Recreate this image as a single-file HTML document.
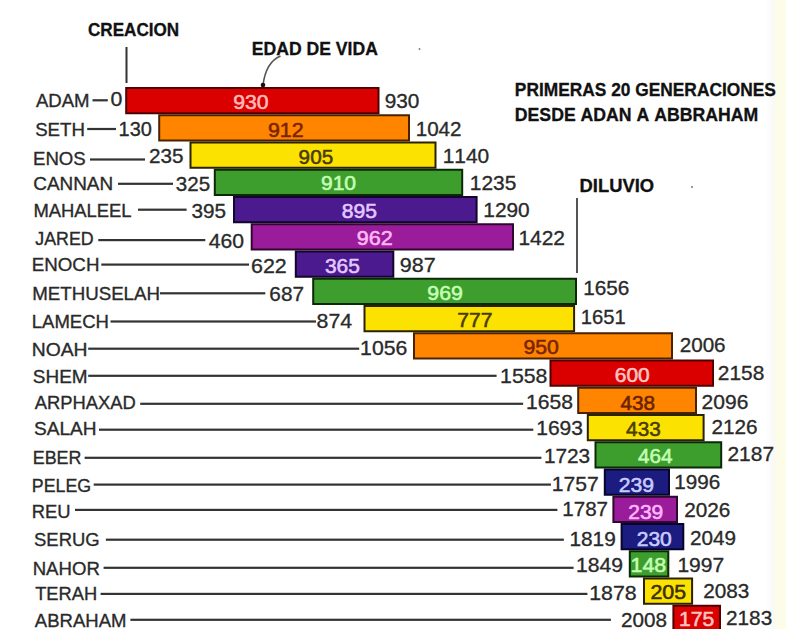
<!DOCTYPE html><html><head><meta charset="utf-8"><style>html,body{margin:0;padding:0;background:#fff;overflow:hidden}svg{display:block}text{font-family:"Liberation Sans",sans-serif;font-kerning:none}</style></head><body>
<svg width="786" height="629" viewBox="0 0 786 629">
<rect x="0" y="0" width="786" height="629" fill="#ffffff"/>
<rect x="775" y="0" width="11" height="629" fill="#fcfce9"/>
<defs><linearGradient id="g1" x1="0" x2="1" y1="0" y2="0"><stop offset="0" stop-color="#ffffff"/><stop offset="1" stop-color="#f8f8f6"/></linearGradient></defs>
<rect x="765" y="0" width="10" height="629" fill="url(#g1)"/>
<rect x="92.50" y="99.20" width="15.30" height="2.20" fill="#333333"/>
<rect x="87.20" y="127.90" width="28.80" height="2.20" fill="#333333"/>
<rect x="90.00" y="158.40" width="55.00" height="2.20" fill="#333333"/>
<rect x="118.00" y="182.70" width="55.00" height="2.20" fill="#333333"/>
<rect x="138.00" y="208.60" width="48.60" height="2.20" fill="#333333"/>
<rect x="98.30" y="239.00" width="107.00" height="2.20" fill="#333333"/>
<rect x="101.30" y="263.50" width="147.70" height="2.20" fill="#333333"/>
<rect x="160.00" y="292.20" width="105.30" height="2.20" fill="#333333"/>
<rect x="110.50" y="320.40" width="205.50" height="2.20" fill="#333333"/>
<rect x="88.20" y="347.60" width="271.00" height="2.20" fill="#333333"/>
<rect x="88.20" y="374.70" width="408.40" height="2.20" fill="#333333"/>
<rect x="140.20" y="402.70" width="382.90" height="2.20" fill="#333333"/>
<rect x="99.00" y="428.60" width="434.30" height="2.20" fill="#333333"/>
<rect x="84.60" y="456.70" width="456.80" height="2.20" fill="#333333"/>
<rect x="93.70" y="483.50" width="457.20" height="2.20" fill="#333333"/>
<rect x="75.00" y="508.80" width="482.40" height="2.20" fill="#333333"/>
<rect x="105.90" y="538.60" width="458.00" height="2.20" fill="#333333"/>
<rect x="103.60" y="566.70" width="470.00" height="2.20" fill="#333333"/>
<rect x="100.60" y="592.80" width="486.80" height="2.20" fill="#333333"/>
<rect x="130.40" y="618.70" width="480.50" height="2.20" fill="#333333"/>
<rect x="126.20" y="88.00" width="252.30" height="25.25" fill="#da0000" stroke="#500000" stroke-width="2.00"/>
<rect x="159.20" y="115.25" width="249.80" height="25.25" fill="#ff8400" stroke="#4a2200" stroke-width="2.00"/>
<rect x="190.50" y="142.50" width="245.00" height="25.25" fill="#fce200" stroke="#2a2200" stroke-width="2.00"/>
<rect x="214.80" y="169.75" width="247.40" height="25.25" fill="#3d9e2d" stroke="#0c2808" stroke-width="2.00"/>
<rect x="234.00" y="197.00" width="242.60" height="25.25" fill="#4a1a8e" stroke="#12062a" stroke-width="2.00"/>
<rect x="251.70" y="224.25" width="261.30" height="25.25" fill="#9a1c9a" stroke="#2e082e" stroke-width="2.00"/>
<rect x="295.80" y="251.50" width="97.50" height="25.25" fill="#4a1a8e" stroke="#12062a" stroke-width="2.00"/>
<rect x="313.20" y="278.75" width="262.80" height="25.25" fill="#3d9e2d" stroke="#0c2808" stroke-width="2.00"/>
<rect x="364.50" y="306.00" width="209.60" height="25.25" fill="#fce200" stroke="#2a2200" stroke-width="2.00"/>
<rect x="414.00" y="333.25" width="258.00" height="25.25" fill="#ff8400" stroke="#4a2200" stroke-width="2.00"/>
<rect x="550.50" y="360.50" width="162.50" height="25.25" fill="#da0000" stroke="#500000" stroke-width="2.00"/>
<rect x="578.20" y="387.75" width="117.80" height="25.25" fill="#ff8400" stroke="#4a2200" stroke-width="2.00"/>
<rect x="587.80" y="415.00" width="115.80" height="25.25" fill="#fce200" stroke="#2a2200" stroke-width="2.00"/>
<rect x="595.50" y="442.25" width="125.70" height="25.25" fill="#3d9e2d" stroke="#0c2808" stroke-width="2.00"/>
<rect x="604.80" y="469.50" width="64.20" height="25.25" fill="#1c1c80" stroke="#06062a" stroke-width="2.00"/>
<rect x="613.40" y="496.75" width="63.60" height="25.25" fill="#9a1c9a" stroke="#2e082e" stroke-width="2.00"/>
<rect x="621.60" y="524.00" width="61.70" height="25.25" fill="#1c1c80" stroke="#06062a" stroke-width="2.00"/>
<rect x="629.80" y="551.25" width="38.50" height="25.25" fill="#3d9e2d" stroke="#0c2808" stroke-width="2.00"/>
<rect x="644.00" y="578.50" width="48.10" height="25.25" fill="#fce200" stroke="#2a2200" stroke-width="2.00"/>
<rect x="673.40" y="605.75" width="46.60" height="25.25" fill="#da0000" stroke="#500000" stroke-width="2.00"/>
<text x="35.96" y="107.43" font-size="18.80" fill="#2a2a2a" stroke="#2a2a2a" stroke-width="0.35" textLength="53.56" lengthAdjust="spacingAndGlyphs">ADAM</text>
<text x="35.15" y="135.53" font-size="18.80" fill="#2a2a2a" stroke="#2a2a2a" stroke-width="0.35" textLength="49.77" lengthAdjust="spacingAndGlyphs">SETH</text>
<text x="32.97" y="165.33" font-size="18.80" fill="#2a2a2a" stroke="#2a2a2a" stroke-width="0.35" textLength="52.78" lengthAdjust="spacingAndGlyphs">ENOS</text>
<text x="33.24" y="189.53" font-size="18.80" fill="#2a2a2a" stroke="#2a2a2a" stroke-width="0.35" textLength="79.90" lengthAdjust="spacingAndGlyphs">CANNAN</text>
<text x="33.39" y="216.93" font-size="18.80" fill="#2a2a2a" stroke="#2a2a2a" stroke-width="0.35" textLength="98.22" lengthAdjust="spacingAndGlyphs">MAHALEEL</text>
<text x="35.32" y="244.83" font-size="18.80" fill="#2a2a2a" stroke="#2a2a2a" stroke-width="0.35" textLength="58.33" lengthAdjust="spacingAndGlyphs">JARED</text>
<text x="31.76" y="270.83" font-size="18.80" fill="#2a2a2a" stroke="#2a2a2a" stroke-width="0.35" textLength="67.66" lengthAdjust="spacingAndGlyphs">ENOCH</text>
<text x="32.17" y="300.03" font-size="18.80" fill="#2a2a2a" stroke="#2a2a2a" stroke-width="0.35" textLength="127.86" lengthAdjust="spacingAndGlyphs">METHUSELAH</text>
<text x="31.78" y="327.53" font-size="18.80" fill="#2a2a2a" stroke="#2a2a2a" stroke-width="0.35" textLength="77.23" lengthAdjust="spacingAndGlyphs">LAMECH</text>
<text x="31.71" y="355.73" font-size="18.80" fill="#2a2a2a" stroke="#2a2a2a" stroke-width="0.35" textLength="55.86" lengthAdjust="spacingAndGlyphs">NOAH</text>
<text x="32.84" y="383.13" font-size="18.80" fill="#2a2a2a" stroke="#2a2a2a" stroke-width="0.35" textLength="54.71" lengthAdjust="spacingAndGlyphs">SHEM</text>
<text x="34.86" y="409.33" font-size="18.80" fill="#2a2a2a" stroke="#2a2a2a" stroke-width="0.35" textLength="101.01" lengthAdjust="spacingAndGlyphs">ARPHAXAD</text>
<text x="34.03" y="434.73" font-size="18.80" fill="#2a2a2a" stroke="#2a2a2a" stroke-width="0.35" textLength="62.62" lengthAdjust="spacingAndGlyphs">SALAH</text>
<text x="32.73" y="464.33" font-size="18.80" fill="#2a2a2a" stroke="#2a2a2a" stroke-width="0.35" textLength="48.80" lengthAdjust="spacingAndGlyphs">EBER</text>
<text x="31.84" y="492.03" font-size="18.80" fill="#2a2a2a" stroke="#2a2a2a" stroke-width="0.35" textLength="59.29" lengthAdjust="spacingAndGlyphs">PELEG</text>
<text x="31.79" y="518.23" font-size="18.80" fill="#2a2a2a" stroke="#2a2a2a" stroke-width="0.35" textLength="38.83" lengthAdjust="spacingAndGlyphs">REU</text>
<text x="34.06" y="545.93" font-size="18.80" fill="#2a2a2a" stroke="#2a2a2a" stroke-width="0.35" textLength="65.62" lengthAdjust="spacingAndGlyphs">SERUG</text>
<text x="32.67" y="574.53" font-size="18.80" fill="#2a2a2a" stroke="#2a2a2a" stroke-width="0.35" textLength="67.19" lengthAdjust="spacingAndGlyphs">NAHOR</text>
<text x="35.19" y="599.53" font-size="18.80" fill="#2a2a2a" stroke="#2a2a2a" stroke-width="0.35" textLength="61.90" lengthAdjust="spacingAndGlyphs">TERAH</text>
<text x="34.86" y="626.53" font-size="18.80" fill="#2a2a2a" stroke="#2a2a2a" stroke-width="0.35" textLength="91.55" lengthAdjust="spacingAndGlyphs">ABRAHAM</text>
<text x="110.57" y="105.83" font-size="19.80" fill="#2a2a2a" stroke="#2a2a2a" stroke-width="0.32" textLength="11.87" lengthAdjust="spacingAndGlyphs">0</text>
<text x="118.58" y="136.03" font-size="19.80" fill="#2a2a2a" stroke="#2a2a2a" stroke-width="0.32" textLength="33.30" lengthAdjust="spacingAndGlyphs">130</text>
<text x="148.96" y="163.43" font-size="19.80" fill="#2a2a2a" stroke="#2a2a2a" stroke-width="0.32" textLength="34.51" lengthAdjust="spacingAndGlyphs">235</text>
<text x="175.82" y="190.53" font-size="19.80" fill="#2a2a2a" stroke="#2a2a2a" stroke-width="0.32" textLength="34.35" lengthAdjust="spacingAndGlyphs">325</text>
<text x="191.41" y="218.03" font-size="19.80" fill="#2a2a2a" stroke="#2a2a2a" stroke-width="0.32" textLength="34.56" lengthAdjust="spacingAndGlyphs">395</text>
<text x="208.81" y="248.03" font-size="19.80" fill="#2a2a2a" stroke="#2a2a2a" stroke-width="0.32" textLength="35.31" lengthAdjust="spacingAndGlyphs">460</text>
<text x="251.01" y="273.03" font-size="19.80" fill="#2a2a2a" stroke="#2a2a2a" stroke-width="0.32" textLength="35.77" lengthAdjust="spacingAndGlyphs">622</text>
<text x="269.34" y="300.53" font-size="19.80" fill="#2a2a2a" stroke="#2a2a2a" stroke-width="0.32" textLength="34.70" lengthAdjust="spacingAndGlyphs">687</text>
<text x="316.57" y="328.03" font-size="19.80" fill="#2a2a2a" stroke="#2a2a2a" stroke-width="0.32" textLength="35.55" lengthAdjust="spacingAndGlyphs">874</text>
<text x="360.08" y="355.03" font-size="19.80" fill="#2a2a2a" stroke="#2a2a2a" stroke-width="0.32" textLength="47.25" lengthAdjust="spacingAndGlyphs">1056</text>
<text x="500.08" y="382.53" font-size="19.80" fill="#2a2a2a" stroke="#2a2a2a" stroke-width="0.32" textLength="47.35" lengthAdjust="spacingAndGlyphs">1558</text>
<text x="525.99" y="408.93" font-size="19.80" fill="#2a2a2a" stroke="#2a2a2a" stroke-width="0.32" textLength="46.92" lengthAdjust="spacingAndGlyphs">1658</text>
<text x="536.20" y="435.43" font-size="19.80" fill="#2a2a2a" stroke="#2a2a2a" stroke-width="0.32" textLength="46.83" lengthAdjust="spacingAndGlyphs">1693</text>
<text x="543.91" y="462.93" font-size="19.80" fill="#2a2a2a" stroke="#2a2a2a" stroke-width="0.32" textLength="46.30" lengthAdjust="spacingAndGlyphs">1723</text>
<text x="551.89" y="491.12" font-size="19.80" fill="#2a2a2a" stroke="#2a2a2a" stroke-width="0.32" textLength="46.97" lengthAdjust="spacingAndGlyphs">1757</text>
<text x="562.34" y="516.13" font-size="19.80" fill="#2a2a2a" stroke="#2a2a2a" stroke-width="0.32" textLength="45.70" lengthAdjust="spacingAndGlyphs">1787</text>
<text x="569.41" y="545.63" font-size="19.80" fill="#2a2a2a" stroke="#2a2a2a" stroke-width="0.32" textLength="46.38" lengthAdjust="spacingAndGlyphs">1819</text>
<text x="576.09" y="572.23" font-size="19.80" fill="#2a2a2a" stroke="#2a2a2a" stroke-width="0.32" textLength="47.01" lengthAdjust="spacingAndGlyphs">1849</text>
<text x="589.18" y="599.63" font-size="19.80" fill="#2a2a2a" stroke="#2a2a2a" stroke-width="0.32" textLength="47.45" lengthAdjust="spacingAndGlyphs">1878</text>
<text x="620.96" y="627.03" font-size="19.80" fill="#2a2a2a" stroke="#2a2a2a" stroke-width="0.32" textLength="45.94" lengthAdjust="spacingAndGlyphs">2008</text>
<text x="384.73" y="107.83" font-size="19.80" fill="#2a2a2a" stroke="#2a2a2a" stroke-width="0.32" textLength="34.69" lengthAdjust="spacingAndGlyphs">930</text>
<text x="415.73" y="135.63" font-size="19.80" fill="#2a2a2a" stroke="#2a2a2a" stroke-width="0.32" textLength="45.80" lengthAdjust="spacingAndGlyphs">1042</text>
<text x="442.71" y="162.63" font-size="19.80" fill="#2a2a2a" stroke="#2a2a2a" stroke-width="0.32" textLength="46.51" lengthAdjust="spacingAndGlyphs">1140</text>
<text x="469.81" y="190.23" font-size="19.80" fill="#2a2a2a" stroke="#2a2a2a" stroke-width="0.32" textLength="46.47" lengthAdjust="spacingAndGlyphs">1235</text>
<text x="483.31" y="217.23" font-size="19.80" fill="#2a2a2a" stroke="#2a2a2a" stroke-width="0.32" textLength="46.40" lengthAdjust="spacingAndGlyphs">1290</text>
<text x="518.40" y="244.83" font-size="19.80" fill="#2a2a2a" stroke="#2a2a2a" stroke-width="0.32" textLength="46.65" lengthAdjust="spacingAndGlyphs">1422</text>
<text x="399.89" y="272.23" font-size="19.80" fill="#2a2a2a" stroke="#2a2a2a" stroke-width="0.32" textLength="35.89" lengthAdjust="spacingAndGlyphs">987</text>
<text x="583.22" y="294.73" font-size="19.80" fill="#2a2a2a" stroke="#2a2a2a" stroke-width="0.32" textLength="46.19" lengthAdjust="spacingAndGlyphs">1656</text>
<text x="580.66" y="323.93" font-size="19.80" fill="#2a2a2a" stroke="#2a2a2a" stroke-width="0.32" textLength="45.03" lengthAdjust="spacingAndGlyphs">1651</text>
<text x="679.66" y="351.93" font-size="19.80" fill="#2a2a2a" stroke="#2a2a2a" stroke-width="0.32" textLength="45.95" lengthAdjust="spacingAndGlyphs">2006</text>
<text x="717.85" y="379.93" font-size="19.80" fill="#2a2a2a" stroke="#2a2a2a" stroke-width="0.32" textLength="46.46" lengthAdjust="spacingAndGlyphs">2158</text>
<text x="701.64" y="408.63" font-size="19.80" fill="#2a2a2a" stroke="#2a2a2a" stroke-width="0.32" textLength="46.78" lengthAdjust="spacingAndGlyphs">2096</text>
<text x="711.46" y="433.83" font-size="19.80" fill="#2a2a2a" stroke="#2a2a2a" stroke-width="0.32" textLength="46.16" lengthAdjust="spacingAndGlyphs">2126</text>
<text x="727.45" y="461.33" font-size="19.80" fill="#2a2a2a" stroke="#2a2a2a" stroke-width="0.32" textLength="46.61" lengthAdjust="spacingAndGlyphs">2187</text>
<text x="674.33" y="488.83" font-size="19.80" fill="#2a2a2a" stroke="#2a2a2a" stroke-width="0.32" textLength="45.98" lengthAdjust="spacingAndGlyphs">1996</text>
<text x="684.16" y="516.63" font-size="19.80" fill="#2a2a2a" stroke="#2a2a2a" stroke-width="0.32" textLength="46.16" lengthAdjust="spacingAndGlyphs">2026</text>
<text x="690.06" y="544.53" font-size="19.80" fill="#2a2a2a" stroke="#2a2a2a" stroke-width="0.32" textLength="46.02" lengthAdjust="spacingAndGlyphs">2049</text>
<text x="677.40" y="572.03" font-size="19.80" fill="#2a2a2a" stroke="#2a2a2a" stroke-width="0.32" textLength="46.86" lengthAdjust="spacingAndGlyphs">1997</text>
<text x="703.16" y="597.63" font-size="19.80" fill="#2a2a2a" stroke="#2a2a2a" stroke-width="0.32" textLength="46.16" lengthAdjust="spacingAndGlyphs">2083</text>
<text x="726.06" y="624.73" font-size="19.80" fill="#2a2a2a" stroke="#2a2a2a" stroke-width="0.32" textLength="46.16" lengthAdjust="spacingAndGlyphs">2183</text>
<text x="233.20" y="109.03" font-size="19.80" fill="#ffb8b8" stroke="#ffb8b8" stroke-width="0.55" textLength="35.42" lengthAdjust="spacingAndGlyphs">930</text>
<text x="267.90" y="136.93" font-size="19.80" fill="#7a2400" stroke="#7a2400" stroke-width="0.55" textLength="35.68" lengthAdjust="spacingAndGlyphs">912</text>
<text x="298.63" y="164.33" font-size="19.80" fill="#4a3c00" stroke="#4a3c00" stroke-width="0.55" textLength="34.54" lengthAdjust="spacingAndGlyphs">905</text>
<text x="320.91" y="190.33" font-size="19.80" fill="#c4ffb4" stroke="#c4ffb4" stroke-width="0.55" textLength="35.21" lengthAdjust="spacingAndGlyphs">910</text>
<text x="341.88" y="218.43" font-size="19.80" fill="#e4c8ff" stroke="#e4c8ff" stroke-width="0.55" textLength="35.20" lengthAdjust="spacingAndGlyphs">895</text>
<text x="356.89" y="245.13" font-size="19.80" fill="#ffb8f4" stroke="#ffb8f4" stroke-width="0.55" textLength="36.00" lengthAdjust="spacingAndGlyphs">962</text>
<text x="324.90" y="272.73" font-size="19.80" fill="#e4c8ff" stroke="#e4c8ff" stroke-width="0.55" textLength="34.98" lengthAdjust="spacingAndGlyphs">365</text>
<text x="427.30" y="299.93" font-size="19.80" fill="#c4ffb4" stroke="#c4ffb4" stroke-width="0.55" textLength="35.61" lengthAdjust="spacingAndGlyphs">969</text>
<text x="457.32" y="327.22" font-size="19.80" fill="#4a3c00" stroke="#4a3c00" stroke-width="0.55" textLength="35.25" lengthAdjust="spacingAndGlyphs">777</text>
<text x="523.50" y="353.93" font-size="19.80" fill="#7a2400" stroke="#7a2400" stroke-width="0.55" textLength="35.42" lengthAdjust="spacingAndGlyphs">950</text>
<text x="614.74" y="381.93" font-size="19.80" fill="#ffc4c4" stroke="#ffc4c4" stroke-width="0.55" textLength="34.98" lengthAdjust="spacingAndGlyphs">600</text>
<text x="620.42" y="409.63" font-size="19.80" fill="#6a2200" stroke="#6a2200" stroke-width="0.55" textLength="34.58" lengthAdjust="spacingAndGlyphs">438</text>
<text x="626.12" y="435.93" font-size="19.80" fill="#4a3c00" stroke="#4a3c00" stroke-width="0.55" textLength="34.59" lengthAdjust="spacingAndGlyphs">433</text>
<text x="638.02" y="463.03" font-size="19.80" fill="#c4ffb4" stroke="#c4ffb4" stroke-width="0.55" textLength="34.58" lengthAdjust="spacingAndGlyphs">464</text>
<text x="618.74" y="492.03" font-size="19.80" fill="#c8ccff" stroke="#c8ccff" stroke-width="0.55" textLength="35.26" lengthAdjust="spacingAndGlyphs">239</text>
<text x="628.24" y="518.53" font-size="19.80" fill="#ffb8ff" stroke="#ffb8ff" stroke-width="0.55" textLength="35.05" lengthAdjust="spacingAndGlyphs">239</text>
<text x="636.74" y="545.53" font-size="19.80" fill="#c8ccff" stroke="#c8ccff" stroke-width="0.55" textLength="35.08" lengthAdjust="spacingAndGlyphs">230</text>
<text x="630.47" y="571.93" font-size="19.80" fill="#c4ffb4" stroke="#c4ffb4" stroke-width="0.55" textLength="35.76" lengthAdjust="spacingAndGlyphs">148</text>
<text x="650.42" y="599.33" font-size="19.80" fill="#3a3000" stroke="#3a3000" stroke-width="0.55" textLength="35.67" lengthAdjust="spacingAndGlyphs">205</text>
<text x="678.99" y="625.52" font-size="19.80" fill="#ffc4c4" stroke="#ffc4c4" stroke-width="0.55" textLength="35.30" lengthAdjust="spacingAndGlyphs">175</text>
<text x="88.00" y="35.99" font-size="17.60" fill="#111111" font-weight="bold" stroke="#111111" stroke-width="0.30" textLength="91.15" lengthAdjust="spacingAndGlyphs">CREACION</text>
<text x="251.82" y="54.51" font-size="17.60" fill="#111111" font-weight="bold" stroke="#111111" stroke-width="0.30" textLength="126.04" lengthAdjust="spacingAndGlyphs">EDAD DE VIDA</text>
<text x="514.84" y="95.69" font-size="17.60" fill="#111111" font-weight="bold" stroke="#111111" stroke-width="0.30" textLength="261.04" lengthAdjust="spacingAndGlyphs">PRIMERAS 20 GENERACIONES</text>
<text x="514.82" y="121.09" font-size="17.60" fill="#111111" font-weight="bold" stroke="#111111" stroke-width="0.30" textLength="243.36" lengthAdjust="spacingAndGlyphs">DESDE ADAN A ABBRAHAM</text>
<text x="579.57" y="192.19" font-size="17.60" fill="#111111" font-weight="bold" stroke="#111111" stroke-width="0.30" textLength="74.50" lengthAdjust="spacingAndGlyphs">DILUVIO</text>
<rect x="125.5" y="47" width="2" height="36" fill="#333"/>
<rect x="576" y="198" width="2" height="75" fill="#555"/>
<path d="M280.5,56 Q266,62 263,85" fill="none" stroke="#555" stroke-width="1.6"/>
<circle cx="263" cy="85" r="2.3" fill="#111"/>
<circle cx="692" cy="187" r="0.9" fill="#666"/>
<circle cx="419.5" cy="49" r="0.9" fill="#777"/>
</svg></body></html>
